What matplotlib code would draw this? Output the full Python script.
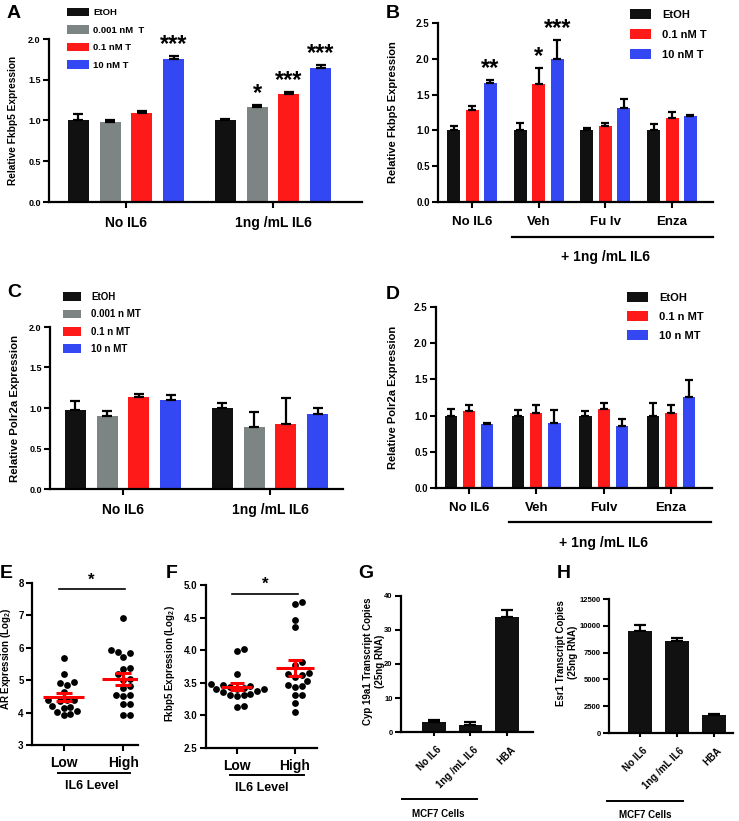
import numpy as np
import matplotlib.pyplot as plt
from matplotlib.transforms import ScaledTranslation

plt.rcParams.update({
    'font.family': 'Liberation Sans',
    'font.weight': 'bold',
    'axes.labelweight': 'bold',
    'mathtext.fontset': 'custom',
    'mathtext.rm': 'Liberation Sans:bold',
    'mathtext.default': 'rm',
})

W, H = 739, 821
BLACK, GREY, RED, BLUE = '#111111', '#7d8484', '#ff1a1a', '#3347f2'

# ---- A: Fkbp5, T dose ----
a_groups = ['No IL6', '1ng /mL IL6']
a_labels = ['EtOH', '0.001 nM  T', '0.1 nM T', '10 nM T']
a_means = [[1.00, 0.98, 1.09, 1.76], [1.00, 1.16, 1.33, 1.64]]
a_errs = [[0.08, 0.03, 0.03, 0.03], [0.02, 0.03, 0.02, 0.04]]
a_stars = [['', '', '', '***'], ['', '*', '***', '***']]

# ---- B: Fkbp5, inhibitors ----
b_groups = ['No IL6', 'Veh', 'Fu lv', 'Enza']
b_labels = ['EtOH', '0.1 nM T', '10 nM T']
b_means = [[1.00, 1.28, 1.66], [1.00, 1.65, 2.00], [1.00, 1.06, 1.31], [1.00, 1.17, 1.20]]
b_errs = [[0.06, 0.06, 0.04], [0.10, 0.22, 0.26], [0.04, 0.05, 0.13], [0.09, 0.08, 0.02]]
b_stars = [['', '', '**'], ['', '*', '***'], ['', '', ''], ['', '', '']]

# ---- C: Polr2a, T dose ----
c_groups = ['No IL6', '1ng /mL IL6']
c_labels = ['EtOH', '0.001 n MT', '0.1 n MT', '10 n MT']
c_means = [[0.97, 0.90, 1.13, 1.10], [1.00, 0.76, 0.80, 0.93]]
c_errs = [[0.12, 0.06, 0.04, 0.06], [0.06, 0.19, 0.32, 0.07]]

# ---- D: Polr2a, inhibitors ----
d_groups = ['No IL6', 'Veh', 'Fulv', 'Enza']
d_labels = ['EtOH', '0.1 n MT', '10 n MT']
d_means = [[1.00, 1.07, 0.88], [1.00, 1.04, 0.90], [1.00, 1.09, 0.85], [1.00, 1.04, 1.25]]
d_errs = [[0.09, 0.08, 0.02], [0.08, 0.10, 0.18], [0.06, 0.09, 0.10], [0.18, 0.10, 0.24]]

# ---- E / F: patient data ----
e_low = [5.70, 5.20, 4.95, 4.90, 4.85, 4.65, 4.40, 4.40, 4.38, 4.35, 4.20, 4.18,
         4.15, 4.05, 4.02, 3.92, 3.95]
e_high = [6.93, 5.93, 5.87, 5.85, 5.72, 5.38, 5.35, 5.18, 5.05, 5.02, 4.82, 4.75,
          4.55, 4.53, 4.52, 4.27, 4.27, 3.92, 3.92]
f_low = [4.02, 3.99, 3.64, 3.48, 3.47, 3.45, 3.43, 3.42, 3.41, 3.40, 3.40, 3.38,
         3.36, 3.33, 3.32, 3.31, 3.30, 3.13, 3.14]
f_high = [4.74, 4.71, 4.46, 4.35, 3.82, 3.77, 3.65, 3.64, 3.62, 3.59, 3.52, 3.47,
          3.45, 3.43, 3.32, 3.32, 3.19, 3.05]

# ---- G / H: MCF7 copies ----
gh_cats = ['No IL6', '1ng /mL IL6', 'HBA']
g_vals, g_errs = [3.0, 2.1, 33.8], [0.5, 0.8, 2.2]
h_vals, h_errs = [9500, 8580, 1650], [620, 300, 120]


fig = plt.figure(figsize=(W / 100, H / 100), dpi=100)


def px_rect(l, t, r, b):
    return [l / W, 1 - b / H, (r - l) / W, (b - t) / H]


def style(ax, labelsize=7):
    for s in ('top', 'right'):
        ax.spines[s].set_visible(False)
    for s in ('left', 'bottom'):
        ax.spines[s].set_linewidth(1.6)
    ax.tick_params(width=1.5, length=4, labelsize=labelsize, pad=2)


def bar_panel(ax, groups, labels, means, errs, colors, step, width, stars=None,
              cap=3.5, starsize=17):
    n = len(labels)
    gx = np.arange(len(groups))
    handles = []
    for i in range(n):
        xs = gx + (i - (n - 1) / 2) * step
        vals = np.array([m[i] for m in means])
        e = np.array([r[i] for r in errs])
        h = ax.bar(xs, vals, width, color=colors[i], zorder=2)
        ax.errorbar(xs, vals, yerr=[np.zeros_like(e), e], fmt='none', ecolor='black',
                    elinewidth=1.6, capsize=cap, capthick=1.6, zorder=3)
        if stars:
            for x, v, ee, s in zip(xs, vals, e, [st[i] for st in stars]):
                if s:
                    ax.annotate(s, (x, v + ee), xytext=(0, 0), textcoords='offset points',
                                ha='center', va='bottom', fontsize=starsize)
        handles.append(h)
    ax.set_xticks(gx, groups)
    return handles


def add_legend(ax, handles, labels, left, top, fs, hl, ls, pad):
    ax.legend(handles, labels, loc='upper left', bbox_to_anchor=(left / W, 1 - top / H),
              bbox_transform=fig.transFigure, frameon=False, fontsize=fs,
              handlelength=hl, handleheight=1.0, labelspacing=ls, handletextpad=pad,
              borderpad=0, borderaxespad=0)


# ---------- A ----------
axA = fig.add_axes(px_rect(49, 39, 362, 202))
hA = bar_panel(axA, a_groups, a_labels, a_means, a_errs, [BLACK, GREY, RED, BLUE],
               0.216, 0.143, stars=a_stars)
axA.set_xlim(-0.524, 1.605)
axA.set_ylim(0, 2.0)
axA.set_yticks(np.arange(0, 2.01, 0.5))
axA.yaxis.set_major_formatter('{x:.1f}')
style(axA, 6.5)
axA.tick_params(axis='x', labelsize=10, pad=6)
axA.set_ylabel('Relative Fkbp5 Expression', fontsize=7.3)
axA.yaxis.set_label_coords(-0.099, 0.5)
add_legend(axA, hA, a_labels, 67, 8, 6.8, 2.3, 0.85, 0.5)

# ---------- B ----------
axB = fig.add_axes(px_rect(438, 23, 713, 202))
hB = bar_panel(axB, b_groups, b_labels, b_means, b_errs, [BLACK, RED, BLUE],
               0.277, 0.195, stars=b_stars, cap=3)
axB.set_xlim(-0.51, 3.615)
axB.set_ylim(0, 2.5)
axB.set_yticks(np.arange(0, 2.51, 0.5))
axB.yaxis.set_major_formatter('{x:.1f}')
style(axB, 7)
axB.tick_params(axis='x', labelsize=9.5, pad=6)
axB.set_ylabel('Relative Fkbp5 Expression', fontsize=8)
axB.yaxis.set_label_coords(-0.145, 0.5)
add_legend(axB, hB, b_labels, 630, 9, 8, 1.9, 0.85, 1.0)
axB.plot([0.6, 3.615], [-0.196, -0.196], color='black', lw=1.6,
         transform=axB.get_xaxis_transform(), clip_on=False)
axB.text(2.0, -0.31, '+ 1ng /mL IL6', transform=axB.get_xaxis_transform(),
         ha='center', va='center', fontsize=10)

# ---------- C ----------
axC = fig.add_axes(px_rect(50, 327, 343, 489))
hC = bar_panel(axC, c_groups, c_labels, c_means, c_errs, [BLACK, GREY, RED, BLUE],
               0.216, 0.143)
axC.set_xlim(-0.497, 1.497)
axC.set_ylim(0, 2.0)
axC.set_yticks(np.arange(0, 2.01, 0.5))
axC.yaxis.set_major_formatter('{x:.1f}')
style(axC, 6.5)
axC.tick_params(axis='x', labelsize=10, pad=6)
axC.set_ylabel('Relative Polr2a Expression', fontsize=8.2)
axC.yaxis.set_label_coords(-0.102, 0.5)
add_legend(axC, hC, c_labels, 63, 292, 7, 1.9, 0.75, 1.0)

# ---------- D ----------
axD = fig.add_axes(px_rect(436, 307, 712, 488))
hD = bar_panel(axD, d_groups, d_labels, d_means, d_errs, [BLACK, RED, BLUE],
               0.27, 0.18, cap=3)
axD.set_xlim(-0.49, 3.61)
axD.set_ylim(0, 2.5)
axD.set_yticks(np.arange(0, 2.51, 0.5))
axD.yaxis.set_major_formatter('{x:.1f}')
style(axD, 7)
axD.tick_params(axis='x', labelsize=9.5, pad=6)
axD.set_ylabel('Relative Polr2a Expression', fontsize=8)
axD.yaxis.set_label_coords(-0.138, 0.5)
add_legend(axD, hD, d_labels, 627, 292, 8, 1.9, 0.75, 1.0)
axD.plot([0.59, 3.6], [-0.188, -0.188], color='black', lw=1.6,
         transform=axD.get_xaxis_transform(), clip_on=False)
axD.text(2.0, -0.304, '+ 1ng /mL IL6', transform=axD.get_xaxis_transform(),
         ha='center', va='center', fontsize=10)


# ---------- E / F scatter ----------
def swarm_offsets(ax, vals, diam=6.8):
    """simple beeswarm: offsets (data units) so dots don't overlap in pixels"""
    p0 = ax.transData.transform((0, 0))
    px_x = ax.transData.transform((1, 0))[0] - p0[0]
    px_y = ax.transData.transform((0, 1))[1] - p0[1]
    vals = np.asarray(vals)
    offs = np.zeros(len(vals))
    placed = []
    cands = [0.0]
    for k in range(1, 40):
        cands += [k * diam * 0.25, -k * diam * 0.25]
    for i in np.argsort(vals):
        y = vals[i] * px_y
        for c in cands:
            if all((c - px) ** 2 + (y - py) ** 2 >= diam ** 2 for px, py in placed):
                break
        placed.append((c, y))
        offs[i] = c / px_x
    return offs


def scatter_panel(ax, groups_vals, halves, capsize):
    for gi, vals in enumerate(groups_vals):
        offs = swarm_offsets(ax, vals)
        ax.scatter(gi + offs, vals, s=24, color='black', zorder=2, linewidths=0)
        m = np.mean(vals)
        sem = np.std(vals, ddof=1) / np.sqrt(len(vals))
        ax.hlines(m, gi - halves[gi], gi + halves[gi], color='red', lw=2.2, zorder=3)
        ax.errorbar(gi, m, yerr=sem, fmt='none', ecolor='red', elinewidth=2.2,
                    capsize=capsize, capthick=2.2, zorder=3)
    ax.set_xticks([0, 1], ['Low', 'High'])


axE = fig.add_axes(px_rect(32, 583, 138, 745))
axE.set_xlim(-0.53, 1.25)
axE.set_ylim(3, 8)
scatter_panel(axE, [e_low, e_high], [0.35, 0.35], 5.5)
style(axE, 7)
axE.tick_params(axis='x', labelsize=10, pad=4)
axE.set_ylabel(r'AR Expression (Log$_2$)', fontsize=7)
axE.yaxis.set_label_coords(-0.18, 0.53)
axE.plot([-0.08, 1.03], [7.8, 7.8], color='black', lw=1.2, clip_on=False)
axE.text(0.47, 7.85, '*', ha='center', va='bottom', fontsize=12, clip_on=False)
axE.plot([-0.1, 1.12], [-0.17, -0.17], color='black', lw=1.4,
         transform=axE.get_xaxis_transform(), clip_on=False)
axE.text(0.47, -0.25, 'IL6 Level', transform=axE.get_xaxis_transform(),
         ha='center', va='center', fontsize=9)

axF = fig.add_axes(px_rect(206, 585, 317, 748))
axF.set_xlim(-0.53, 1.38)
axF.set_ylim(2.5, 5.0)
scatter_panel(axF, [f_low, f_high], [0.27, 0.32], 5.0)
axF.set_yticks(np.arange(2.5, 5.01, 0.5))
axF.yaxis.set_major_formatter('{x:.1f}')
style(axF, 7)
axF.tick_params(axis='x', labelsize=10, pad=4)
axF.set_ylabel(r'Fkbp5 Expression (Log$_2$)', fontsize=7)
axF.yaxis.set_label_coords(-0.26, 0.52)
axF.plot([-0.09, 1.05], [4.86, 4.86], color='black', lw=1.2, clip_on=False)
axF.text(0.48, 4.9, '*', ha='center', va='bottom', fontsize=12, clip_on=False)
axF.plot([-0.12, 1.16], [-0.167, -0.167], color='black', lw=1.4,
         transform=axF.get_xaxis_transform(), clip_on=False)
axF.text(0.43, -0.245, 'IL6 Level', transform=axF.get_xaxis_transform(),
         ha='center', va='center', fontsize=9)


# ---------- G / H bars ----------
def copies_panel(ax, vals, errs, ylim, yticks, ylabel, shift_px):
    x = np.arange(len(gh_cats))
    ax.bar(x, vals, 0.65, color=BLACK, zorder=2)
    ax.errorbar(x, vals, yerr=[np.zeros(len(errs)), errs], fmt='none', ecolor='black',
                elinewidth=1.6, capsize=4.5, capthick=1.6, zorder=3)
    ax.set_ylim(*ylim)
    ax.set_yticks(yticks)
    style(ax, 5.5)
    ax.set_xticks(x, gh_cats, rotation=45, ha='right', rotation_mode='anchor')
    ax.tick_params(axis='x', labelsize=7, pad=6, length=3)
    off = ScaledTranslation(shift_px / 100, 0, fig.dpi_scale_trans)
    for lbl in ax.get_xticklabels():
        lbl.set_transform(lbl.get_transform() + off)
    ax.set_ylabel(ylabel, fontsize=7, linespacing=1.3)


axG = fig.add_axes(px_rect(401, 596, 533, 732))
axG.set_xlim(-0.89, 2.7)
copies_panel(axG, g_vals, g_errs, (0, 40), np.arange(0, 41, 10),
             'Cyp 19a1 Transcript Copies\n(25ng RNA)', 3)
axG.yaxis.set_label_coords(-0.12, 0.52)
axG.plot([-0.87, 1.19], [-0.496, -0.496], color='black', lw=1.4,
         transform=axG.get_xaxis_transform(), clip_on=False)
axG.text(0.11, -0.6, 'MCF7 Cells', transform=axG.get_xaxis_transform(),
         ha='center', va='center', fontsize=7)

axH = fig.add_axes(px_rect(609, 599, 733, 733))
axH.set_xlim(-0.84, 2.51)
copies_panel(axH, h_vals, h_errs, (0, 12500), np.arange(0, 12501, 2500),
             'Esr1 Transcript Copies\n(25ng RNA)', 2)
axH.yaxis.set_label_coords(-0.25, 0.6)
axH.plot([-0.89, 1.16], [-0.507, -0.507], color='black', lw=1.4,
         transform=axH.get_xaxis_transform(), clip_on=False)
axH.text(0.14, -0.61, 'MCF7 Cells', transform=axH.get_xaxis_transform(),
         ha='center', va='center', fontsize=7)

# ---------- panel letters ----------
for letter, x, y in [('A', 7, 5), ('B', 386, 5), ('C', 7, 284), ('D', 386, 286),
                     ('E', 0, 565), ('F', 166, 565), ('G', 358, 565), ('H', 557, 565)]:
    fig.text(x / W, 1 - y / H, letter, ha='left', va='top', fontsize=14, fontweight='bold')

fig.savefig('out.png', dpi=100)
